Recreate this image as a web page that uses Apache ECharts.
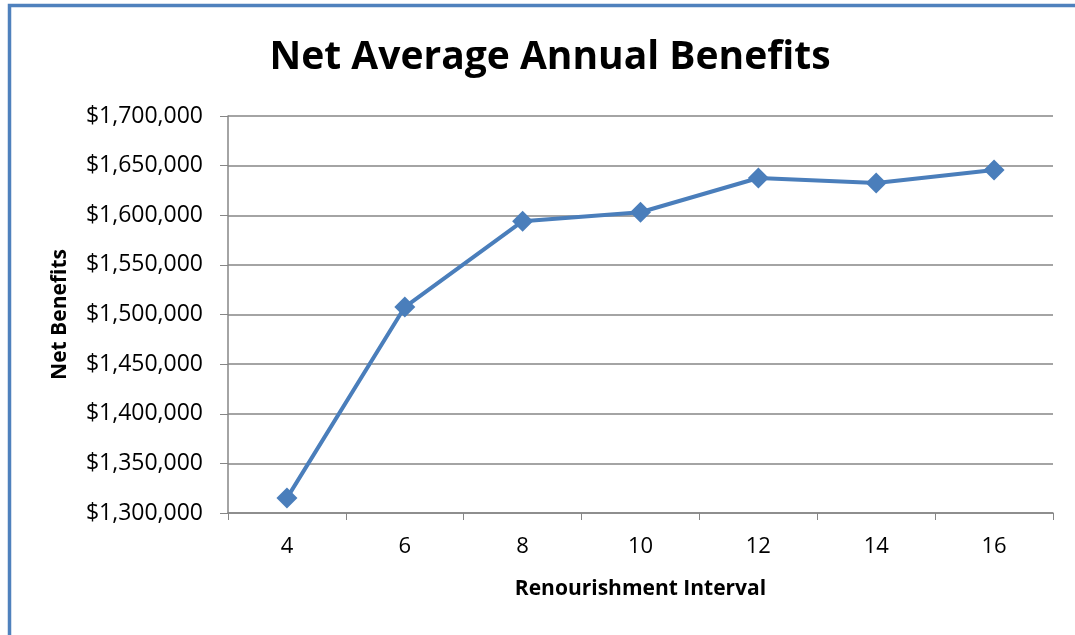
<!DOCTYPE html>
<html><head><meta charset="utf-8">
<script src="https://cdn.jsdelivr.net/npm/echarts@6/dist/echarts.min.js"></script>
<style>html,body{margin:0;padding:0;background:#fff}#c{width:1075px;height:635px}</style>
</head><body><div id="c"></div>
<script>
const categories = ['4','6','8','10','12','14','16'];
const netBenefits = [1315000, 1507500, 1594000, 1603000, 1637500, 1632500, 1645500];
const yMin = 1300000, yMax = 1700000, yStep = 50000;

const chart = echarts.init(document.getElementById('c'));
const font = 'Open Sans, Liberation Sans, sans-serif';
chart.setOption({
  animation: false,
  graphic: [{
    type: 'rect', silent: true,
    shape: {x: 9.5, y: 5.5, width: 1200, height: 800},
    style: {fill: 'none', stroke: '#4f81bd', lineWidth: 3.5}
  }],
  title: {
    text: 'Net Average Annual Benefits', left: 545, top: 33, textAlign: 'center',
    textStyle: {fontFamily: font, fontSize: 39, fontWeight: 'bold', color: '#000'}
  },
  grid: {left: 228, right: 22, top: 116, bottom: 122},
  xAxis: {
    type: 'category', data: categories, boundaryGap: true,
    name: 'Renourishment Interval', nameLocation: 'middle', nameGap: 66,
    nameTextStyle: {fontFamily: font, fontSize: 21, fontWeight: 'bold', color: '#000'},
    axisLine: {lineStyle: {color: '#868686', width: 1.5}},
    axisTick: {show: true, length: 7, lineStyle: {color: '#868686'}},
    axisLabel: {fontFamily: font, fontSize: 22, color: '#000', margin: 23}
  },
  yAxis: {
    type: 'value', min: yMin, max: yMax, interval: yStep,
    name: 'Net Benefits', nameLocation: 'middle', nameGap: 157, nameRotate: 90,
    nameTextStyle: {fontFamily: font, fontSize: 21, fontWeight: 'bold', color: '#000'},
    axisLine: {show: true, lineStyle: {color: '#868686', width: 1.5}},
    axisTick: {show: true, length: 8, inside: false, lineStyle: {color: '#868686'}},
    splitLine: {lineStyle: {color: '#868686', width: 1.5}},
    axisLabel: {fontFamily: font, fontSize: 23, color: '#000', margin: 25,
      formatter: v => '$' + v.toLocaleString('en-US')}
  },
  series: [{
    type: 'line', data: netBenefits,
    symbol: 'diamond', symbolSize: 21,
    lineStyle: {color: '#4a7ebb', width: 4},
    itemStyle: {color: '#4a7ebb'}
  }]
});
</script></body></html>
